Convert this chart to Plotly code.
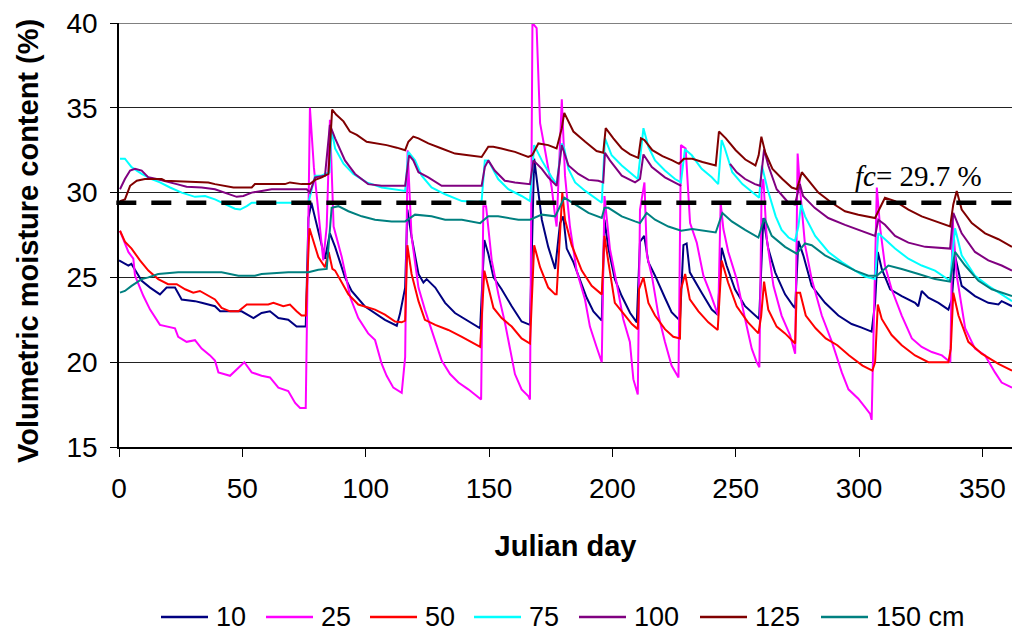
import plotly.graph_objects as go

# ---------------- data ----------------
days_10 = [0, 3.8, 5, 9.2, 12.6, 16.6, 19.3, 22.7, 25.4, 30.8, 33.5, 38.9, 41, 49.7, 54.5, 57.8, 61.2, 64.6, 68.6, 72, 75.7,
           76.8, 78, 83.5, 85.5, 87.6, 91.6, 94.3, 99.6, 103.8, 107.8, 112.6, 113.9, 116, 116.9, 118.6, 121.4, 123.4, 124.7,
           128.2, 132.2, 136.2, 141.6, 146.4, 148.1, 149.7, 151.8, 155.1, 159.2, 163.2, 166.6, 168.3, 171.4, 174, 176.8,
           178.8, 180.1, 181.5, 184.2, 186.9, 189.6, 192.3, 195.7, 196.8, 198.4, 201, 203.8, 207.2, 209.9, 211.2, 212.9,
           214.6, 217.3, 221.3, 224, 227.4, 228.8, 230.1, 231.4, 236.2, 240.3, 242.7, 244.3, 246.3, 249.7, 253.8, 257.8,
           259.5, 261.2, 263.2, 266, 270, 273.4, 274.1, 275.4, 277.4, 280.8, 286.2, 291.6, 297, 300.8, 305.1, 306.5, 307.6,
           309.2, 312.6, 317.3, 322.7, 324, 325.4, 328.1, 332.2, 336.2, 337.6, 338.9, 341.6, 347, 352.4, 356.5, 357.8, 362]
vals_10 = [26.0, 25.7, 25.8, 24.8, 24.4, 24.0, 24.4, 24.4, 23.7, 23.6, 23.5, 23.3, 23.0, 23.0, 22.6, 22.9, 23.0, 22.6, 22.5, 22.1, 22.1,
           28.5, 29.4, 26.1, 27.6, 26.8, 25.0, 24.2, 23.3, 22.9, 22.5, 22.15, 22.85, 24.4, 29.0, 27.4, 25.2, 24.7, 24.9,
           24.4, 23.5, 22.9, 22.4, 22.0, 27.2, 26.4, 25.0, 24.3, 23.3, 22.4, 22.2, 32.0, 28.4, 26.8, 25.5,
           28.2, 28.6, 26.7, 25.9, 24.9, 23.8, 23.0, 22.45, 28.4, 26.7, 24.9, 23.9, 22.9, 22.35, 27.1, 27.45,
           25.9, 25.1, 23.8, 22.95, 22.45, 26.9, 27.0, 25.3, 24.1, 23.1, 22.8, 26.75, 25.7, 24.3, 23.3, 22.75,
           22.55, 28.5, 26.7, 25.3, 24.0, 23.3, 23.2, 27.15, 26.3, 24.5, 23.5, 22.75, 22.25, 22.05, 21.8, 23.5, 26.5,
           25.5, 24.3, 23.9, 23.5, 23.3, 24.2, 23.8, 23.5, 23.1, 23.7, 26.3, 24.5, 23.9, 23.5, 23.4, 23.6, 23.3]

days_25 = [0.4, 3.8, 5.8, 6.5, 9.9, 12.6, 16.6, 22.7, 24, 27.4, 30.8, 33.5, 36.9, 38.9, 40.3, 45, 50.8, 53.8, 57.8, 61.2,
           64.6, 68.6, 71.4, 73.4, 75.7, 77.4, 79, 82.8, 84.2, 85.5, 87, 90.3, 93.8, 97, 101, 103.8, 106.5, 108.5, 111.2,
           114.6, 116, 117, 118.6, 121.4, 124, 128.2, 130.8, 134.2, 137.6, 141.6, 145, 146.8, 147.7, 148.8, 151.1, 153.8,
           156.5, 160.5, 163.2, 165.9, 166.6, 167.6, 169.3, 170.7, 172.7, 175.4, 176.8, 177.4, 179.5, 180.8, 182.8, 185.5,
           188.9, 190.9, 193.6, 195.7, 196.8, 199, 201.7, 204.4, 207.1, 208.5, 210.3, 211.2, 213, 214, 216, 218.7, 221.3,
           224, 226.8, 227.8, 229.7, 231.5, 234.2, 236.9, 239.6, 242.9, 243.9, 245, 247, 250.4, 253.8, 256.5, 258.5,
           259.6, 260.5, 261.2, 262.6, 265.3, 268.6, 272, 274.1, 275.1, 276.1, 278.1, 280.8, 284.9, 289, 293, 295.7,
           299.7, 302.4, 304.5, 305.1, 307.2, 308.6, 310.5, 313.2, 317.3, 321.4, 325.4, 329.5, 333.6, 337, 337.9, 339.6,
           343, 347, 351.1, 355.1, 357.8, 362]
vals_25 = [27.75, 26.5, 26.1, 25.1, 23.9, 23.1, 22.2, 22.0, 21.5, 21.2, 21.3, 20.8, 20.4, 20.1, 19.4, 19.2, 20.0, 19.4, 19.2, 19.1,
           18.5, 18.3, 17.6, 17.3, 17.3, 35.0, 31.5, 26.0, 28.0, 34.3, 28.0, 26.2, 23.8, 22.6, 21.7, 21.3, 19.9, 19.2, 18.5,
           18.2, 20.3, 32.5, 27.4, 24.4, 23.1, 21.3, 20.1, 19.3, 18.8, 18.4, 18.0, 17.8, 29.2, 29.2, 26.0, 24.0,
           22.3, 19.3, 18.4, 18.0, 17.8, 40.0, 39.7, 34.1, 32.5, 30.3, 28.6, 28.0, 35.5, 31.0, 28.0, 25.4,
           23.7, 22.1, 20.9, 20.0, 29.8, 26.7, 24.7, 22.55, 21.2, 19.0, 18.1, 29.0, 30.6, 26.3, 25.1, 22.75, 21.2,
           19.8, 19.1, 32.8, 32.6, 28.2, 27.05, 25.1, 24.1, 22.75, 29.4, 27.85, 26.5, 24.9, 22.55, 20.8, 20.0,
           19.7, 30.2, 30.8, 27.25, 24.5, 22.75, 21.6, 20.5, 32.3, 30.2, 26.9, 24.9, 22.75, 21.2, 19.4, 18.4,
           17.85, 17.35, 16.95, 16.6, 30.3, 27.85, 25.7, 24.3, 22.75, 21.4, 20.9, 20.6, 20.4, 20.0, 28.5, 25.1,
           22.0, 20.8, 20.4, 19.4, 18.8, 18.5]

days_50 = [0.4, 2.4, 5.1, 8.5, 11.9, 15.9, 19.9, 23.4, 26.8, 30.1, 32.8, 36.2, 38.9, 41.6, 45, 48.4, 51.8, 60.5, 62.6, 66.6,
           69.3, 72, 74, 75.7, 77.2, 80.8, 83.5, 85, 86.5, 87.6, 93, 97, 103.8, 107.8, 111.9, 114.6, 116, 116.9, 118.6,
           121.4, 124, 128.2, 133.5, 139, 143, 146.4, 148.1, 149.7, 151.8, 155.1, 159.2, 163.2, 166.6, 168.3, 170.7, 174,
           176.8, 177.4, 179.7, 180.8, 183.5, 187.6, 191.6, 195.7, 196.8, 198.4, 201, 203.8, 207.9, 210.3, 210.8, 212.6,
           214.6, 217.3, 221.3, 224.7, 227.4, 227.8, 229.5, 231.4, 234.9, 238.9, 242.7, 244.3, 246.9, 250.4, 255, 259.2,
           260.3, 261.5, 263.2, 266.6, 270, 274.1, 274.7, 276.1, 278.4, 282.4, 286.5, 291.2, 296, 301.4, 305.4, 306.5,
           307.6, 309.2, 313.2, 317.3, 322.7, 328.1, 336.2, 337.2, 338.2, 340.3, 344.3, 349.7, 356.5, 362]
vals_50 = [27.75, 27.1, 26.7, 26.0, 25.4, 24.9, 24.6, 24.6, 24.3, 24.1, 24.2, 23.9, 23.7, 23.2, 23.0, 23.0, 23.4, 23.4, 23.5, 23.3,
           23.4, 23.0, 22.75, 22.75, 27.9, 26.2, 25.6, 26.5, 25.5, 25.4, 24.0, 23.4, 23.1, 22.8, 22.4, 22.35, 22.45, 26.9, 25.2,
           23.6, 22.5, 22.2, 21.9, 21.5, 21.2, 20.9, 25.4, 24.4, 23.2, 22.6, 22.1, 21.4, 21.1, 26.9, 25.6, 24.4,
           24.0, 24.0, 30.0, 28.4, 26.9, 25.4, 24.5, 24.0, 27.45, 25.9, 23.5, 23.0, 22.25, 21.95, 24.3, 25.0,
           23.5, 22.75, 21.95, 21.5, 21.4, 24.3, 25.2, 23.7, 23.0, 22.35, 21.9, 26.0, 24.7, 23.3, 22.35, 21.7,
           22.7, 24.75, 23.1, 22.1, 21.7, 21.1, 24.1, 24.1, 22.75, 22.0, 21.4, 21.0, 20.4, 19.8, 19.5, 20.0,
           23.4, 22.55, 21.6, 21.0, 20.4, 20.0, 20.0, 20.8, 24.1, 22.75, 21.2, 20.5, 19.9, 19.5]

days_75 = [0.4, 2.4, 5.1, 9.2, 13.2, 16.6, 20.7, 25.4, 30.8, 34.9, 38.9, 43, 47, 49.1, 51.8, 53.8, 57.8, 76.8, 79.5, 82,
           85.3, 86.2, 87.6, 91, 95, 100.4, 106.5, 111.9, 116, 117.3, 120, 122.7, 126.7, 132.2, 139, 145.6, 147, 148.3,
           149.7, 153.7, 157.8, 163.2, 166.6, 168.3, 171.4, 175.4, 177.4, 179.5, 180.5, 182.2, 184.9, 189, 193, 195.7,
           197, 199.7, 203.8, 207.9, 210.3, 212.6, 214.6, 217.3, 221.3, 225.4, 227.8, 229.4, 232.2, 236.2, 240.3, 242.9,
           244.3, 245.6, 248.6, 252.7, 256.8, 259.5, 260.6, 262.9, 266.2, 268.6, 271.4, 274, 275.4, 276.5, 278.1, 282.2,
           287.6, 293, 298.4, 302.4, 306.5, 307.8, 310.5, 314.6, 320, 325.4, 330.8, 336.9, 338.9, 341.6, 347, 352.4,
           357.8, 362]
vals_75 = [32.0, 32.0, 31.5, 31.1, 30.8, 30.6, 30.3, 30.0, 29.75, 29.8, 29.6, 29.3, 29.05, 29.0, 29.2, 29.4, 29.4, 29.4, 31.0, 31.0,
           31.2, 33.7, 32.6, 31.7, 31.1, 30.6, 30.3, 30.2, 30.1, 32.4, 31.9, 31.0, 30.3, 29.9, 29.5, 29.45, 29.5, 31.9,
           31.9, 30.8, 30.2, 29.8, 29.5, 32.8, 31.9, 30.9, 30.5, 32.9, 32.6, 31.4, 30.6, 30.1, 29.7, 29.4,
           33.2, 32.2, 31.6, 31.1, 30.8, 33.8, 32.7, 31.9, 31.3, 30.8, 30.6, 32.55, 32.2, 31.4, 30.9, 30.5,
           33.1, 32.6, 31.2, 30.5, 30.0, 29.7, 31.6, 30.2, 28.6, 27.8, 27.35, 27.15, 28.0, 29.3, 28.6, 27.45,
           26.5, 25.9, 25.4, 25.05, 24.9, 27.6, 27.25, 26.7, 26.1, 25.7, 25.4, 24.8, 27.9, 26.3, 25.1, 24.5,
           24.0, 23.6]

days_100 = [0.4, 2.4, 4.5, 6.5, 9.2, 11.9, 15.3, 20, 23.4, 27.4, 33.5, 38.9, 44.3, 47.7, 50.4, 53.8, 57.8, 61.9, 66, 71.4,
            76.1, 77.4, 79.5, 83.5, 85.5, 87.6, 91.6, 95.7, 101, 106.5, 116, 117.6, 119.3, 121.4, 125.4, 130.8, 147, 148.3,
            149.7, 152.3, 156.4, 160.5, 166.6, 168, 171.4, 174, 177.4, 179.5, 182.2, 186.2, 190.3, 194.3, 196.3, 197, 199,
            203.8, 209.2, 211.2, 212.6, 216, 221.3, 227.9, 237, 247.7, 250.4, 253.8, 257.8, 259.9, 261.5, 263.2, 266.6,
            271.4, 274, 276, 277.3, 282, 287.5, 294.3, 299.7, 306.5, 307.8, 310.5, 314.6, 320, 326.8, 336.9, 338.2, 341.6,
            347, 352.4, 357.8, 362]
vals_100 = [30.2, 30.8, 31.3, 31.4, 31.3, 30.9, 30.8, 30.6, 30.5, 30.35, 30.3, 30.2, 29.95, 29.75, 29.8, 30.0, 30.1, 30.2, 30.2, 30.2,
            30.2, 30.0, 30.9, 31.0, 34.0, 33.2, 31.9, 31.1, 30.5, 30.4, 30.4, 32.2, 31.9, 31.2, 30.9, 30.4, 30.4, 31.5,
            31.9, 31.3, 30.7, 30.6, 30.5, 31.9, 31.4, 30.9, 30.4, 32.8, 31.6, 31.1, 30.75, 30.7, 30.6, 32.35, 31.9,
            31.0, 30.6, 30.8, 32.25, 31.5, 30.9, 30.4, None, 31.7, 31.2, 30.8, 30.5, 30.4, 32.55, 31.6, 30.2,
            29.4, 29.3, 30.5, 29.8, 29.1, 28.5, 28.1, 27.8, 27.45, 28.4, 28.1, 27.45, 27.05, 26.8, 26.7, 28.8, 27.6,
            26.5, 26.0, 25.7, 25.4]

days_125 = [0.4, 2.4, 4.5, 7.2, 10.5, 17.3, 18.6, 36.2, 38.9, 43, 46.4, 53.8, 55.1, 67.3, 69.3, 74, 77.4, 79.5, 82.2, 84.9,
            86.4, 88, 91, 93.6, 96.4, 100.4, 104.5, 108.5, 112.6, 116, 117.3, 119.3, 121.4, 125.4, 130.8, 136.2, 141.6,
            147, 149.7, 151.7, 155, 160.5, 165.9, 167.5, 170, 174, 177.4, 179.5, 180.5, 184.2, 189, 193.6, 196.3, 197.3,
            200.4, 203.8, 207.2, 210.5, 211.6, 213, 216.2, 220.3, 224.3, 227, 229, 232.4, 236.5, 239.2, 241.9, 243.2, 246,
            250, 253.9, 258, 259.3, 260.4, 262, 264.9, 268.9, 272.7, 274.8, 276.8, 279.5, 283.5, 288.9, 294.3, 299.7,
            306.5, 307.8, 310.5, 314.6, 320, 325.4, 330.8, 336.9, 338.2, 339.6, 341.6, 345.7, 351.1, 356.5, 362]
vals_125 = [29.5, 29.6, 30.4, 30.7, 30.8, 30.8, 30.7, 30.6, 30.5, 30.4, 30.3, 30.3, 30.5, 30.5, 30.6, 30.5, 30.5, 30.75, 30.9, 31.1,
            34.9, 34.6, 34.2, 33.6, 33.4, 33.0, 32.9, 32.8, 32.65, 32.5, 33.0, 33.3, 33.2, 32.9, 32.6, 32.3, 32.2,
            32.1, 32.7, 32.7, 32.6, 32.4, 32.1, 32.2, 32.9, 32.8, 32.6, 33.8, 34.7, 33.6, 33.0, 32.45, 32.35, 33.8,
            33.2, 32.6, 32.25, 32.05, 33.2, 33.1, 32.5, 32.15, 31.9, 31.7, 32.0, 32.0, 31.8, 31.7, 31.6, 33.6, 33.2,
            32.5, 31.95, 31.6, 32.2, 33.3, 32.35, 31.4, 30.8, 30.3, 30.2, 31.2, 30.7, 30.0, 29.4, 28.9, 28.7,
            28.5, 28.9, 29.7, 29.5, 29.0, 28.6, 28.3, 28.0, 29.3, 30.1, 29.0, 28.2, 27.6, 27.25, 26.8]

days_150 = [0.4, 2.4, 5.1, 9.2, 11.9, 15.9, 24, 41.6, 48.4, 55.1, 57.8, 68.6, 76.8, 80.8, 84.2, 86.2, 88.9, 93, 98.4, 103.8,
            110.5, 116, 120, 126.7, 132.2, 139, 146.4, 149.7, 153.7, 161.9, 166.6, 171.4, 176.8, 180.5, 184.9, 190.3,
            195.7, 196.8, 198.4, 203.8, 209.2, 211.2, 213.9, 217.3, 222.7, 227.9, 232.4, 237.9, 241.9, 244.6, 248.4,
            253.8, 259.2, 261.6, 264.6, 270, 274.7, 278.1, 280.8, 286.2, 293, 298.4, 303.8, 307.2, 311.9, 317.3, 324.1,
            330.8, 336.9, 338.9, 343, 348.4, 353.8, 362]
vals_150 = [24.1, 24.2, 24.5, 24.9, 25.0, 25.2, 25.3, 25.3, 25.1, 25.1, 25.2, 25.3, 25.3, 25.45, 25.5, 29.1, 29.2, 28.9, 28.6, 28.4,
            28.3, 28.3, 28.7, 28.6, 28.4, 28.4, 28.2, 28.6, 28.6, 28.4, 28.4, 28.7, 28.6, 29.7, 29.3, 28.8,
            28.5, 29.1, 29.1, 28.6, 28.3, 28.2, 28.8, 28.4, 28.0, 27.75, 27.85, 27.75, 27.65, 28.8, 28.3,
            27.8, 27.35, 28.5, 27.45, 26.8, 26.4, 27.0, 26.9, 26.3, 25.8, 25.4, 25.1, 25.1, 25.7, 25.5, 25.2,
            24.9, 24.75, 26.5, 25.7, 24.8, 24.3, 23.9]

legend_labels = ["10", "25", "50", "75", "100", "125", "150 cm"]
fc_drawn = 29.4          # level of the dashed field-capacity line as drawn
fc_label = "<i>fc</i>= 29.7 %"
x_title = "<b>Julian day</b>"
y_title = "<b>Volumetric moisture content (%)</b>"
x_ticks = [0, 50, 100, 150, 200, 250, 300, 350]
y_ticks = [15, 20, 25, 30, 35, 40]

# ---------------- styles ----------------
colors = ["#000080", "#FF00FF", "#FF0000", "#00FFFF", "#800080", "#800000", "#008080"]
series = [(days_10, vals_10), (days_25, vals_25), (days_50, vals_50), (days_75, vals_75),
          (days_100, vals_100), (days_125, vals_125), (days_150, vals_150)]

SANS = "Liberation Sans, Arial, sans-serif"
SERIF = "Liberation Serif, Times New Roman, serif"

fig = go.Figure()
for (d, v), c, lab in zip(series, colors, legend_labels):
    fig.add_trace(go.Scatter(x=d, y=v, mode="lines", name=lab, connectgaps=False,
                             line=dict(color=c, width=2), showlegend=False))

# field capacity dashed line
fig.add_shape(type="line", xref="paper", yref="y", x0=-0.003, x1=1, y0=fc_drawn, y1=fc_drawn,
              line=dict(color="black", width=4.5, dash="20px,15px"), layer="above")
# grey top border
fig.add_shape(type="line", xref="paper", yref="y", x0=0, x1=1, y0=40, y1=40,
              line=dict(color="#808080", width=2), layer="above")

fig.add_annotation(x=324, y=31.0, xref="x", yref="y", text=fc_label, showarrow=False,
                   font=dict(family=SERIF, size=29, color="black"), xanchor="center", yanchor="middle")

PLOT_L, PLOT_W, PLOT_B, PLOT_H = 119, 893, 447, 424

# y-axis title placed as a rotated annotation
fig.add_annotation(xref="paper", yref="paper", x=(28 - PLOT_L) / PLOT_W, y=(PLOT_B - 241) / PLOT_H,
                   text=y_title, textangle=-90, showarrow=False, xanchor="center", yanchor="middle",
                   font=dict(family=SANS, size=29, color="black"))

# manual legend (below the plot)
leg_y_px = 617
leg_starts = [161, 266, 370, 474, 579, 700, 821]
for lab, c, sx in zip(legend_labels, colors, leg_starts):
    yp = (PLOT_B - leg_y_px) / PLOT_H
    fig.add_shape(type="line", xref="paper", yref="paper",
                  x0=(sx - PLOT_L) / PLOT_W, x1=(sx + 47 - PLOT_L) / PLOT_W, y0=yp, y1=yp,
                  line=dict(color=c, width=2.5))
    fig.add_annotation(xref="paper", yref="paper", x=(sx + 54 - PLOT_L) / PLOT_W, y=yp,
                       text=lab, showarrow=False, xanchor="left", yanchor="middle", borderpad=0,
                       font=dict(family=SANS, size=27, color="black"))

fig.update_layout(
    width=1012, height=635,
    margin=dict(l=PLOT_L, r=0, t=23, b=188),
    paper_bgcolor="white", plot_bgcolor="white",
    showlegend=False,
    font=dict(family=SANS, color="black"),
    xaxis=dict(range=[0, 362], tickvals=x_ticks, ticks="outside", ticklen=8, tickwidth=1.2,
               tickcolor="black", showline=True, linecolor="black", linewidth=1.5,
               showgrid=False, zeroline=False, ticklabelstandoff=8, automargin=False,
               tickfont=dict(family=SANS, size=28, color="black"),
               title=dict(text=x_title, font=dict(family=SANS, size=29, color="black"), standoff=32)),
    yaxis=dict(range=[15, 40], tickvals=y_ticks, ticks="outside", ticklen=7, tickwidth=1.2,
               tickcolor="black", showline=True, linecolor="black", linewidth=1.5,
               showgrid=True, gridcolor="#222222", gridwidth=1, zeroline=False, ticklabelstandoff=7,
               automargin=False,
               tickfont=dict(family=SANS, size=28, color="black")),
)

fig.write_html("out.html", config={"displayModeBar": False},
               post_script="document.body.style.margin='0px';document.body.style.padding='0px';"
                           "document.body.style.overflow='hidden';")
